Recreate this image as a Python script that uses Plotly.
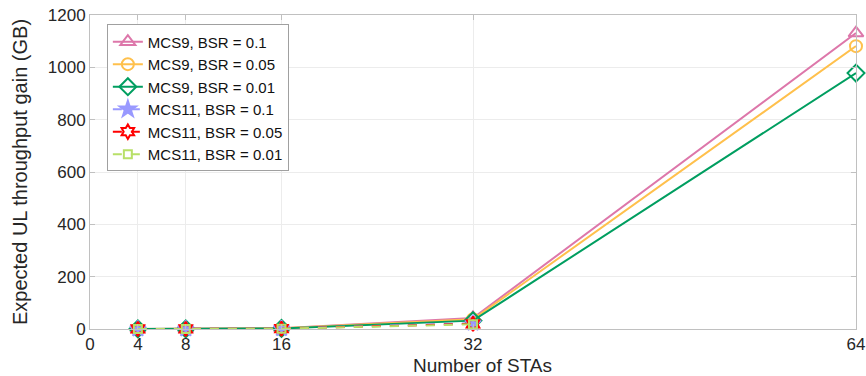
import plotly.graph_objects as go

# Number of stations on the x axis
stas = [4, 8, 16, 32, 64]
stas_mcs11 = [4, 8, 16, 32]

# Expected UL throughput gain (GB)
mcs9_bsr_01 = [0.2, 0.5, 3, 42, 1131]
mcs9_bsr_005 = [0.2, 0.4, 2.5, 37, 1081]
mcs9_bsr_001 = [0.1, 0.3, 2, 32, 978]
mcs11_bsr_01 = [0.1, 0.3, 1.5, 22]
mcs11_bsr_005 = [0.1, 0.3, 1.3, 20]
mcs11_bsr_001 = [0.1, 0.2, 1.0, 18]

x_ticks = [0, 4, 8, 16, 32, 64]
y_ticks = [0, 200, 400, 600, 800, 1000, 1200]

series = [
    ("MCS9, BSR = 0.1", stas, mcs9_bsr_01, "#dd77aa", "triangle-up-open", "solid", 13),
    ("MCS9, BSR = 0.05", stas, mcs9_bsr_005, "#ffc04c", "circle-open", "solid", 12),
    ("MCS9, BSR = 0.01", stas, mcs9_bsr_001, "#009e60", "diamond-open", "solid", 13),
    ("MCS11, BSR = 0.1", stas_mcs11, mcs11_bsr_01, "#9999ff", "star", "dash", 12),
    ("MCS11, BSR = 0.05", stas_mcs11, mcs11_bsr_005, "#ff0000", "hexagram-open", "dash", 11),
    ("MCS11, BSR = 0.01", stas_mcs11, mcs11_bsr_001, "#b8e068", "square-open", "dash", 8),
]

fig = go.Figure()
for name, xs, ys, color, symbol, dash, size in series:
    fig.add_trace(go.Scatter(
        x=xs, y=ys, name=name, mode="lines+markers", cliponaxis=False,
        line=dict(color=color, width=2, dash=dash),
        marker=dict(symbol=symbol, size=size, color=color,
                    line=dict(color=color, width=2)),
    ))

axis_common = dict(
    showline=True, linecolor="#c0c0c0", linewidth=1, mirror="ticks",
    ticks="inside", ticklen=5, tickcolor="#c0c0c0",
    showgrid=True, gridcolor="#ececec", gridwidth=1, zeroline=False,
    tickfont=dict(family="Arial, Liberation Sans", size=17, color="#262626"),
    ticklabeloverflow="allow",
)

fig.update_layout(
    width=866, height=376,
    margin=dict(l=90, r=10, t=15, b=47, autoexpand=False),
    plot_bgcolor="white", paper_bgcolor="white",
    font=dict(family="Arial, Liberation Sans", color="#262626"),
    xaxis=dict(axis_common, range=[0, 64], tickvals=x_ticks, automargin=False),
    yaxis=dict(axis_common, range=[0, 1200], tickvals=y_ticks, automargin=False,
               title=dict(text="Expected UL throughput gain (GB)", font=dict(size=20), standoff=14)),
    legend=dict(x=0.022, y=0.97, xanchor="left", yanchor="top",
                bgcolor="white", bordercolor="#a0a0a0", borderwidth=1,
                font=dict(size=15, color="#111"), tracegroupgap=0,
                itemwidth=30),
    showlegend=True,
    annotations=[dict(
        text="Number of STAs", xref="paper", yref="paper",
        x=0.513, y=-0.117, xanchor="center", yanchor="middle",
        showarrow=False, font=dict(size=19, color="#262626"),
    )],
)

fig.write_html("out.html")
